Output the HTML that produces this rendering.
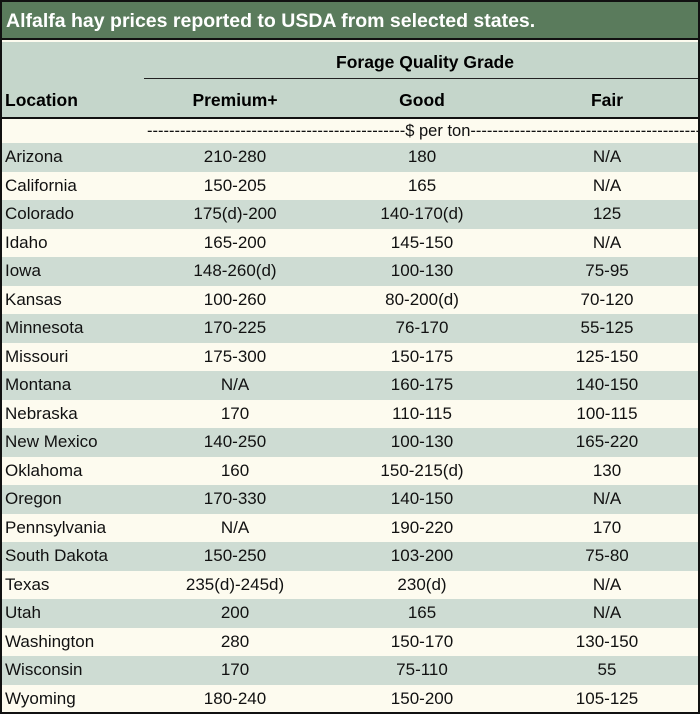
<!DOCTYPE html>
<html><head><meta charset="utf-8"><style>
body{margin:0;width:700px;height:714px;background:#fff;font-family:"Liberation Sans",sans-serif;}
#t{position:absolute;left:0;top:0;width:696px;height:710px;border:2px solid #111;background:#fdfbef;overflow:hidden}
.title{position:absolute;left:0;top:0;width:696px;height:38px;background:#5a7b5c;color:#fff;font-weight:bold;font-size:19.5px;line-height:38px;padding-left:4px;box-sizing:border-box;border-bottom:2px solid #111;white-space:nowrap}
.hdr{position:absolute;left:0;top:40px;width:696px;height:75px;background:#c5d6cb;border-bottom:2px solid #111}
.hdr div{position:absolute;font-weight:bold;font-size:17.5px}
.row{position:absolute;left:0;width:696px;height:28.5px;font-size:17px;line-height:28.5px;color:#111}
.row span{position:absolute;text-align:center;width:180px;white-space:nowrap}
.g{background:#cedcd3}
</style></head><body>
<div id="t">
<div class="title">Alfalfa hay prices reported to USDA from selected states.</div>
<div class="hdr">
<div style="left:0;width:696px;top:10px;padding-left:150px;box-sizing:border-box;text-align:center">Forage Quality Grade</div>
<div style="left:142px;top:36px;width:554px;height:0;border-top:1.5px solid #222"></div>
<div style="left:3px;top:48px">Location</div>
<div style="left:143px;width:180px;top:48px;text-align:center">Premium+</div>
<div style="left:330px;width:180px;top:48px;text-align:center">Good</div>
<div style="left:515px;width:180px;top:48px;text-align:center">Fair</div>
</div>
<div class="row" style="top:117px;height:24px;line-height:24px;font-size:16.5px;text-align:center;padding-left:145px;box-sizing:border-box;white-space:nowrap;overflow:hidden">-----------------------------------------------$ per ton-----------------------------------------------</div>
</div>
<script>
const locations=["Arizona","California","Colorado","Idaho","Iowa","Kansas","Minnesota","Missouri","Montana","Nebraska","New Mexico","Oklahoma","Oregon","Pennsylvania","South Dakota","Texas","Utah","Washington","Wisconsin","Wyoming"];
const premium=["210-280","150-205","175(d)-200","165-200","148-260(d)","100-260","170-225","175-300","N/A","170","140-250","160","170-330","N/A","150-250","235(d)-245d)","200","280","170","180-240"];
const good=["180","165","140-170(d)","145-150","100-130","80-200(d)","76-170","150-175","160-175","110-115","100-130","150-215(d)","140-150","190-220","103-200","230(d)","165","150-170","75-110","150-200"];
const fair=["N/A","N/A","125","N/A","75-95","70-120","55-125","125-150","140-150","100-115","165-220","130","N/A","170","75-80","N/A","N/A","130-150","55","105-125"];
const c=document.getElementById('t');
locations.forEach((l,i)=>{
 const r=document.createElement('div');
 r.className='row'+(i%2==0?' g':'');
 r.style.top=(141+i*28.5)+'px';
 
 
 const cells=[[l,3,'left'],[premium[i],143,'center'],[good[i],330,'center'],[fair[i],515,'center']];
 cells.forEach((cc,j)=>{
  const s=document.createElement('span');
  s.textContent=cc[0];s.style.left=cc[1]+'px';s.style.textAlign=cc[2];
  
  
  r.appendChild(s);
 });
 c.appendChild(r);
});
</script>
</body></html>
